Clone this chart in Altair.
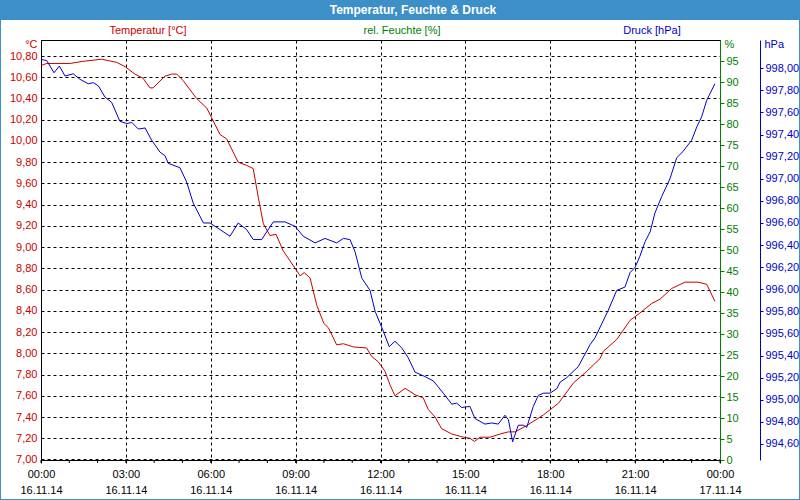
import json
import altair as alt
import pandas as pd

# ---------------- data ----------------
temp_hours = [0.00, 0.20, 1.03, 1.48, 2.15, 2.68, 2.97, 3.32, 3.61, 3.85,
              3.96, 4.38, 4.62, 4.80, 5.02, 5.50, 5.86, 6.03, 6.33, 6.56,
              6.97, 7.27, 7.50, 7.68, 7.86, 8.09, 8.31, 8.55, 9.16, 9.30,
              9.51, 9.75, 10.00, 10.16, 10.45, 10.69, 11.04, 11.51, 11.69, 11.92,
              12.16, 12.34, 12.51, 12.87, 13.22, 13.51, 13.69, 13.93, 14.16, 14.52,
              14.93, 15.16, 15.32, 15.52, 15.87, 16.23, 16.52, 16.76, 17.17, 17.76,
              18.29, 18.82, 19.29, 19.76, 19.88, 20.35, 20.82, 21.17, 21.59, 21.88,
              22.29, 22.76, 23.23, 23.53, 23.82]
temp_values = [10.71, 10.73, 10.73, 10.75, 10.77, 10.74, 10.70, 10.63, 10.59, 10.50,
               10.50, 10.61, 10.63, 10.63, 10.57, 10.40, 10.31, 10.22, 10.06, 10.02,
               9.80, 9.77, 9.74, 9.47, 9.22, 9.11, 9.12, 8.97, 8.73, 8.76,
               8.71, 8.45, 8.28, 8.24, 8.08, 8.09, 8.06, 8.05, 7.97, 7.92,
               7.83, 7.70, 7.60, 7.67, 7.61, 7.58, 7.47, 7.40, 7.29, 7.24,
               7.21, 7.20, 7.17, 7.21, 7.21, 7.24, 7.26, 7.26, 7.32, 7.42,
               7.53, 7.72, 7.83, 7.95, 8.02, 8.13, 8.31, 8.38, 8.47, 8.51,
               8.61, 8.67, 8.67, 8.65, 8.49]

press_hours = [0.00, 0.20, 0.46, 0.65, 0.85, 1.14, 1.38, 1.67, 1.85, 2.03,
               2.26, 2.50, 2.79, 3.03, 3.21, 3.44, 3.68, 3.91, 4.21, 4.38,
               4.50, 4.91, 5.15, 5.38, 5.74, 5.97, 6.33, 6.68, 6.97, 7.27,
               7.50, 7.80, 8.21, 8.62, 8.98, 9.27, 9.69, 10.04, 10.45, 10.69,
               10.92, 11.10, 11.34, 11.63, 11.81, 12.10, 12.31, 12.51, 12.75, 12.98,
               13.22, 13.57, 13.87, 14.22, 14.52, 14.69, 14.87, 15.16, 15.34, 15.69,
               15.93, 16.16, 16.40, 16.52, 16.67, 16.87, 17.05, 17.17, 17.40, 17.58,
               17.76, 17.99, 18.23, 18.35, 18.58, 18.99, 19.41, 19.58, 20.05, 20.35,
               20.64, 20.82, 21.00, 21.17, 21.35, 21.53, 21.70, 21.94, 22.23, 22.47,
               22.70, 23.00, 23.18, 23.35, 23.53, 23.82]
press_values = [998.08, 998.07, 997.96, 998.02, 997.93, 997.95, 997.90, 997.86, 997.87, 997.84,
                997.74, 997.69, 997.52, 997.50, 997.51, 997.45, 997.46, 997.35, 997.24, 997.21,
                997.14, 997.10, 996.97, 996.78, 996.60, 996.60, 996.54, 996.48, 996.60, 996.54,
                996.45, 996.45, 996.61, 996.61, 996.57, 996.48, 996.42, 996.46, 996.42, 996.46,
                996.45, 996.34, 996.10, 995.99, 995.80, 995.62, 995.48, 995.53, 995.47, 995.38,
                995.25, 995.21, 995.17, 995.06, 994.96, 994.97, 994.93, 994.94, 994.83, 994.78,
                994.79, 994.78, 994.86, 994.82, 994.62, 994.77, 994.77, 994.75, 994.94, 995.04,
                995.06, 995.06, 995.10, 995.16, 995.20, 995.30, 995.50, 995.56, 995.81, 995.99,
                996.02, 996.15, 996.20, 996.30, 996.43, 996.52, 996.69, 996.84, 997.00, 997.19,
                997.25, 997.35, 997.47, 997.56, 997.71, 997.86]

# humidity axis extent only (no humidity series in the picture)
hum_extent = [0, 100]

# ticks / labels
x_major = [0, 3, 6, 9, 12, 15, 18, 21, 24]
x_minor = [0, 1, 2, 3, 4, 5, 6, 7, 8, 9, 10, 11, 12, 13, 14, 15, 16, 17, 18, 19, 20, 21, 22, 23, 24]
x_time_labels = ["00:00", "03:00", "06:00", "09:00", "12:00", "15:00", "18:00", "21:00", "00:00"]
x_date_labels = ["16.11.14", "16.11.14", "16.11.14", "16.11.14", "16.11.14",
                 "16.11.14", "16.11.14", "16.11.14", "17.11.14"]
temp_ticks = [7.0, 7.2, 7.4, 7.6, 7.8, 8.0, 8.2, 8.4, 8.6, 8.8,
              9.0, 9.2, 9.4, 9.6, 9.8, 10.0, 10.2, 10.4, 10.6, 10.8]
hum_ticks = [0, 5, 10, 15, 20, 25, 30, 35, 40, 45, 50, 55, 60, 65, 70, 75, 80, 85, 90, 95]
press_ticks = [994.6, 994.8, 995.0, 995.2, 995.4, 995.6, 995.8, 996.0, 996.2, 996.4,
               996.6, 996.8, 997.0, 997.2, 997.4, 997.6, 997.8, 998.0]

title_text = "Temperatur, Feuchte & Druck"
header_temp = "Temperatur [°C]"
header_hum = "rel. Feuchte [%]"
header_press = "Druck [hPa]"

# ---------------- styling ----------------
FONT = "Liberation Sans"
RED = "#c80000"
GREEN = "#008000"
BLUE = "#0000cc"
BAR = "#3d8fc8"
W, H = 679, 420

temp_dom = [6.995, 10.951]
press_dom = [994.455, 998.256]

xscale = alt.Scale(domain=[0, 24], nice=False, zero=False)

tl = json.dumps(x_time_labels)
dl = json.dumps(x_date_labels)
x_label_expr = f"[{tl}[round(datum.value/3)], {dl}[round(datum.value/3)]]"
comma2 = "replace(format(datum.value, '.2f'), '.', ',')"

x_axis = alt.Axis(
    values=x_major, grid=True, gridDash=[3, 3], gridColor="black", gridOpacity=1,
    domainColor="black", tickColor="black", tickSize=3, labelPadding=5,
    labelExpr=x_label_expr, labelLineHeight=16, labelColor="black",
    labelFont=FONT, labelFontSize=11, labelFlush=False, labelOverlap=False,
    title=None)


def xenc():
    return alt.X("h:Q", scale=xscale, axis=x_axis)


temp_df = pd.DataFrame({"h": temp_hours, "v": temp_values})
press_df = pd.DataFrame({"h": press_hours, "v": press_values})
hum_df = pd.DataFrame({"h": [0, 0], "v": hum_extent})
minor_df = pd.DataFrame({"h": x_minor})
one = pd.DataFrame({"a": [0]})

temp_line = alt.Chart(temp_df).mark_line(color=RED, strokeWidth=1).encode(
    x=xenc(),
    y=alt.Y("v:Q", scale=alt.Scale(domain=temp_dom, nice=False, zero=False), axis=alt.Axis(
        orient="left", values=temp_ticks, grid=True, gridDash=[3, 3], gridColor="black",
        gridOpacity=1, tickSize=0, labelPadding=4, labelColor=RED, labelExpr=comma2,
        labelFont=FONT, labelFontSize=11, labelFlush=False, labelOverlap=False,
        domainColor="black", title="°C", titleAngle=0, titleAlign="right",
        titleBaseline="middle", titleX=-4, titleY=4, titleColor=RED,
        titleFont=FONT, titleFontSize=11, titleFontWeight="normal")),
)

hum_axis = alt.Chart(hum_df).mark_point(opacity=0).encode(
    x=xenc(),
    y=alt.Y("v:Q", scale=alt.Scale(domain=[0, 100], nice=False), axis=alt.Axis(
        orient="right", values=hum_ticks, grid=False, tickSize=4, tickColor=GREEN,
        domainColor=GREEN, labelColor=GREEN, labelPadding=2, labelFont=FONT,
        labelFontSize=11, labelFlush=False, labelOverlap=False,
        title="%", titleAngle=0, titleAlign="left", titleBaseline="middle",
        titleX=4, titleY=4, titleColor=GREEN, titleFont=FONT, titleFontSize=11,
        titleFontWeight="normal")),
)

press_line = alt.Chart(press_df).mark_line(color=BLUE, strokeWidth=1).encode(
    x=xenc(),
    y=alt.Y("v:Q", scale=alt.Scale(domain=press_dom, nice=False, zero=False), axis=alt.Axis(
        orient="right", offset=40, values=press_ticks, grid=False, tickSize=3,
        tickColor=BLUE, domainColor=BLUE, labelColor=BLUE, labelPadding=2,
        labelExpr=comma2, labelFont=FONT, labelFontSize=11, labelFlush=False,
        labelOverlap=False, title="hPa", titleAngle=0, titleAlign="left",
        titleBaseline="middle", titleX=4, titleY=4, titleColor=BLUE, titleFont=FONT,
        titleFontSize=11, titleFontWeight="normal")),
)

minor_ticks = alt.Chart(minor_df).mark_rule(color="black", strokeWidth=1).encode(
    x=xenc(),
    y=alt.value(H), y2=alt.value(H + 3),
)

title_bar = alt.Chart(one).mark_rect(color=BAR).encode(
    x=alt.value(-41), x2=alt.value(759), y=alt.value(-40), y2=alt.value(-20))
frame_left = alt.Chart(one).mark_rect(color=BAR).encode(
    x=alt.value(-41), x2=alt.value(-40), y=alt.value(-40), y2=alt.value(460))
frame_right = alt.Chart(one).mark_rect(color=BAR).encode(
    x=alt.value(758), x2=alt.value(759), y=alt.value(-40), y2=alt.value(460))
frame_bottom = alt.Chart(one).mark_rect(color=BAR).encode(
    x=alt.value(-41), x2=alt.value(759), y=alt.value(459), y2=alt.value(460))

title = alt.Chart(one).mark_text(
    text=title_text, font=FONT, fontSize=12, fontWeight="bold", color="white",
    align="center", baseline="middle").encode(x=alt.value(372), y=alt.value(-30))
h1 = alt.Chart(one).mark_text(text=header_temp, font=FONT, fontSize=11, color=RED,
                              align="center", baseline="middle").encode(
    x=alt.value(107), y=alt.value(-9))
h2 = alt.Chart(one).mark_text(text=header_hum, font=FONT, fontSize=11, color=GREEN,
                              align="center", baseline="middle").encode(
    x=alt.value(361), y=alt.value(-9))
h3 = alt.Chart(one).mark_text(text=header_press, font=FONT, fontSize=11, color=BLUE,
                              align="center", baseline="middle").encode(
    x=alt.value(611), y=alt.value(-9))

chart = alt.layer(
    temp_line, hum_axis, press_line, minor_ticks,
    title_bar, frame_left, frame_right, frame_bottom, title, h1, h2, h3,
).resolve_scale(y="independent").properties(
    width=W, height=H,
    autosize=alt.AutoSizeParams(type="none"),
    padding={"left": 41, "top": 40, "right": 80, "bottom": 40},
    background="white",
).configure_view(stroke="black", strokeWidth=1)

chart.save("out.html", embed_options={"renderer": "svg", "actions": False})
